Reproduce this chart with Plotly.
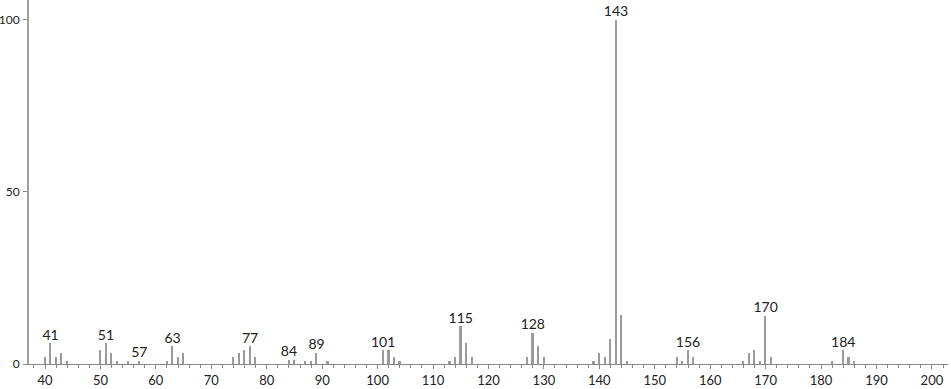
import plotly.graph_objects as go

# m/z values and relative intensities
mz = [40, 41, 42, 43, 44, 50, 51, 52, 53, 55, 57, 62, 63, 64, 65,
      74, 75, 76, 77, 78, 84, 85, 87, 88, 89, 91,
      101, 102, 103, 104, 113, 114, 115, 116, 117,
      127, 128, 129, 130, 139, 140, 141, 142, 143, 144, 145,
      154, 155, 156, 157, 166, 167, 168, 169, 170, 171,
      182, 184, 185, 186]
intensity = [2.1, 6.1, 2.1, 3.2, 1.0, 4.0, 6.1, 3.2, 1.0, 1.0, 1.0, 1.0, 5.2, 2.1, 3.2,
             2.1, 3.2, 4.0, 5.2, 2.1, 1.2, 1.2, 1.0, 1.0, 3.2, 1.0,
             4.0, 4.0, 2.1, 1.0, 1.0, 2.1, 11.0, 6.1, 2.1,
             2.1, 9.1, 5.2, 2.1, 1.0, 3.2, 2.1, 7.3, 100.0, 14.2, 1.0,
             2.1, 1.0, 4.0, 2.1, 1.0, 3.2, 4.0, 1.0, 14.0, 2.1,
             1.0, 4.0, 2.1, 1.0]

labeled_mz = [41, 51, 57, 63, 77, 84, 89, 101, 115, 128, 143, 156, 170, 184]

x_ticks = [40, 50, 60, 70, 80, 90, 100, 110, 120, 130, 140, 150, 160, 170, 180, 190, 200]
y_ticks = [0, 50, 100]

lookup = dict(zip(mz, intensity))
label_y = [lookup[m] for m in labeled_mz]
label_text = [str(m) for m in labeled_mz]

FONT = "Lato"

fig = go.Figure()
fig.add_trace(go.Bar(x=mz, y=intensity, width=0.3,
                     marker=dict(color="#9a9a9a", line=dict(width=0)),
                     hoverinfo="x+y"))
fig.add_trace(go.Scatter(x=labeled_mz, y=label_y, mode="text", text=label_text,
                         textposition="top center",
                         textfont=dict(family=FONT, size=14, color="#222"),
                         hoverinfo="skip"))

fig.update_layout(
    width=951, height=389,
    margin=dict(l=29, r=3, t=0, b=25, autoexpand=False),
    paper_bgcolor="white", plot_bgcolor="white",
    showlegend=False, bargap=0,
    font=dict(family=FONT, size=13, color="#222"),
)
fig.update_xaxes(range=[37.11, 202.9], tickmode="array", tickvals=x_ticks,
                 ticktext=[str(v) for v in x_ticks], automargin=False,
                 showgrid=False, zeroline=False, showline=True,
                 linecolor="#888", linewidth=1,
                 ticks="outside", ticklen=4, tickcolor="#888",
                 ticklabelstandoff=0,
                 minor=dict(dtick=2, tick0=40, ticks="outside", ticklen=3, tickcolor="#888"),
                 tickfont=dict(family=FONT, size=13, color="#222"))
fig.update_yaxes(range=[0, 105.8], tickmode="array", tickvals=y_ticks,
                 ticktext=[str(v) for v in y_ticks], automargin=False,
                 showgrid=False, zeroline=False, showline=True,
                 linecolor="#a0a0a0", linewidth=2,
                 ticks="outside", ticklen=4, tickcolor="#888",
                 ticklabelstandoff=1,
                 tickfont=dict(family=FONT, size=12, color="#222"))

fig.write_html("out.html")
